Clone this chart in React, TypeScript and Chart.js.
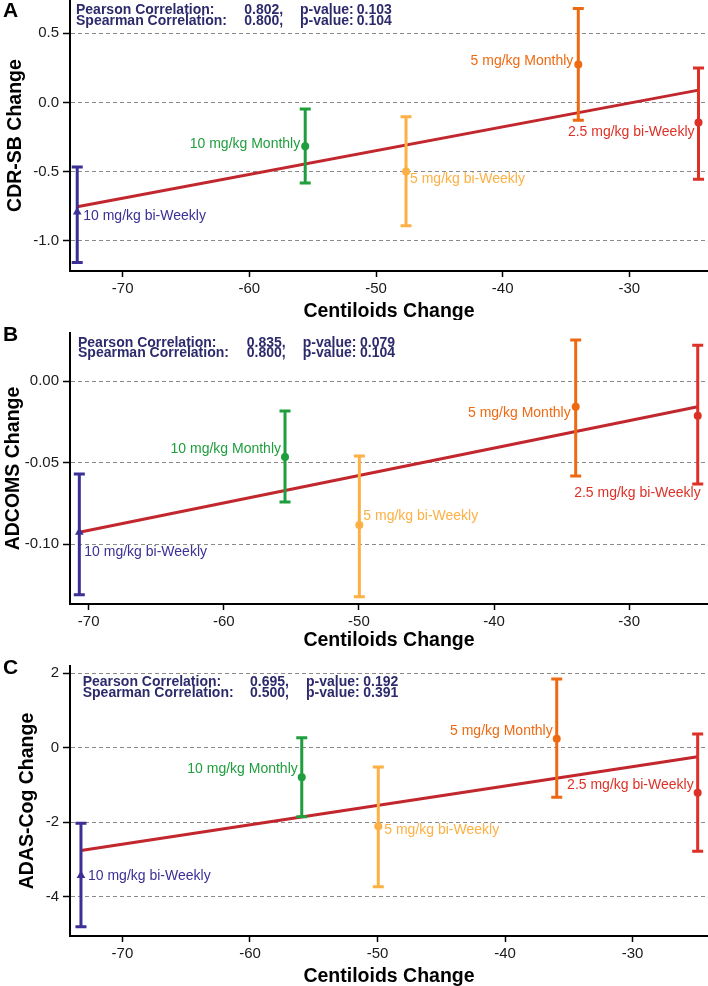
import React, { useEffect, useRef } from 'react';
import { Chart, registerables } from 'chart.js';

Chart.register(...registerables);

// ---------- shared data ----------
const groups = ['10 mg/kg bi-Weekly', '10 mg/kg Monthly', '5 mg/kg bi-Weekly', '5 mg/kg Monthly', '2.5 mg/kg bi-Weekly'];
const xTitle = 'Centiloids Change';
const xTickValues = [-70, -60, -50, -40, -30];
const statLabels = ['Pearson Correlation:', 'Spearman Correlation:'];

// ---------- panel A : CDR-SB ----------
const cdrsbTitle = 'CDR-SB Change';
const cdrsbCentiloids = [-73.59, -55.59, -47.63, -34.03, -24.54];
const cdrsbMean = [-0.793, -0.316, -0.499, 0.275, -0.145];
const cdrsbLow = [-1.157, -0.582, -0.892, -0.128, -0.555];
const cdrsbHigh = [-0.466, -0.048, -0.104, 0.68, 0.25];
const cdrsbFitX = [-73.59, -24.54];
const cdrsbFitY = [-0.754, 0.089];
const cdrsbTicks = [0.5, 0.0, -0.5, -1.0];
const cdrsbPearson = ['0.802,', '0.103'];
const cdrsbSpearman = ['0.800,', '0.104'];

// ---------- panel B : ADCOMS ----------
const adcomsTitle = 'ADCOMS Change';
const adcomsCentiloids = [-70.69, -55.47, -49.97, -33.96, -24.93];
const adcomsMean = [-0.0928, -0.0466, -0.0883, -0.0158, -0.0213];
const adcomsLow = [-0.1311, -0.0742, -0.1323, -0.0583, -0.0632];
const adcomsHigh = [-0.0571, -0.0184, -0.046, 0.0252, 0.0219];
const adcomsFitX = [-70.69, -24.93];
const adcomsFitY = [-0.0928, -0.0158];
const adcomsTicks = [0.0, -0.05, -0.1];
const adcomsPearson = ['0.835,', '0.079'];
const adcomsSpearman = ['0.800,', '0.104'];

// ---------- panel C : ADAS-Cog ----------
const adasTitle = 'ADAS-Cog Change';
const adasCentiloids = [-73.25, -55.94, -49.94, -35.95, -24.9];
const adasMean = [-3.43, -0.79, -2.11, 0.24, -1.21];
const adasLow = [-4.81, -1.85, -3.73, -1.33, -2.78];
const adasHigh = [-2.03, 0.27, -0.52, 1.85, 0.37];
const adasFitX = [-73.25, -24.9];
const adasFitY = [-2.76, -0.24];
const adasTicks = [2, 0, -2, -4];
const adasPearson = ['0.695,', '0.192'];
const adasSpearman = ['0.500,', '0.391'];

// ---------- styles ----------
const groupColors = ['#3a3095', '#1f9e3d', '#fdb043', '#ee6a12', '#dd3127'];
const markerStyles = ['triangle', 'circle', 'circle', 'circle', 'circle'];
const markerSizes = [5, 4, 4, 4, 4];
const fitColor = '#c1272d';
const statColor = '#2d2a6c';
const FONT = '"Liberation Sans", Arial, Helvetica, sans-serif';

type Place = { align: 'left' | 'right'; dx: number; dy: number };

const placesA: Place[] = [
  { align: 'left', dx: 6, dy: 4 },
  { align: 'right', dx: -5, dy: -2 },
  { align: 'left', dx: 4, dy: 8 },
  { align: 'right', dx: -5, dy: -3 },
  { align: 'right', dx: -4, dy: 10 },
];
const placesB: Place[] = [
  { align: 'left', dx: 5, dy: 20 },
  { align: 'right', dx: -4, dy: -8 },
  { align: 'left', dx: 4, dy: -9 },
  { align: 'right', dx: -5, dy: 6 },
  { align: 'right', dx: 3, dy: 77 },
];
const placesC: Place[] = [
  { align: 'left', dx: 7, dy: 1 },
  { align: 'right', dx: -4, dy: -8 },
  { align: 'left', dx: 6, dy: 4 },
  { align: 'right', dx: -4, dy: -8 },
  { align: 'right', dx: -4, dy: -8 },
];

type Panel = {
  letter: string;
  yTitle: string;
  xs: number[];
  mean: number[];
  low: number[];
  high: number[];
  fitX: number[];
  fitY: number[];
  yTicks: number[];
  decimals: number;
  pearson: string[];
  spearman: string[];
  places: Place[];
  top: number;
  height: number;
  areaTop: number;
  xAxisH: number;
  xMin: number;
  xMax: number;
  yMin: number;
  yMax: number;
  yTitleX: number;
  xTitleBase: number;
  letterBase: number;
  annX: number[];
  annY: number[];
};

const panels: Panel[] = [
  {
    letter: 'A', yTitle: cdrsbTitle, xs: cdrsbCentiloids, mean: cdrsbMean, low: cdrsbLow, high: cdrsbHigh,
    fitX: cdrsbFitX, fitY: cdrsbFitY, yTicks: cdrsbTicks, decimals: 1, pearson: cdrsbPearson, spearman: cdrsbSpearman,
    places: placesA,
    top: 0, height: 320, areaTop: 0, xAxisH: 49, xMin: -74.16, xMax: -23.79, yMin: -1.219, yMax: 0.741,
    yTitleX: 21, xTitleBase: 317, letterBase: 17, annX: [76, 244.3, 300, 356.7], annY: [10.3, 21.3],
  },
  {
    letter: 'B', yTitle: adcomsTitle, xs: adcomsCentiloids, mean: adcomsMean, low: adcomsLow, high: adcomsHigh,
    fitX: adcomsFitX, fitY: adcomsFitY, yTicks: adcomsTicks, decimals: 2, pearson: adcomsPearson, spearman: adcomsSpearman,
    places: placesB,
    top: 320, height: 330, areaTop: 13, xAxisH: 46, xMin: -71.38, xMax: -24.17, yMin: -0.1368, yMax: 0.02945,
    yTitleX: 19, xTitleBase: 646, letterBase: 341, annX: [78, 246.7, 302.7, 360], annY: [342.7, 353.3],
  },
  {
    letter: 'C', yTitle: adasTitle, xs: adasCentiloids, mean: adasMean, low: adasLow, high: adasHigh,
    fitX: adasFitX, fitY: adasFitY, yTicks: adasTicks, decimals: 0, pearson: adasPearson, spearman: adasSpearman,
    places: placesC,
    top: 650, height: 336, areaTop: 16, xAxisH: 50, xMin: -74.11, xMax: -24.09, yMin: -5.056, yMax: 2.196,
    yTitleX: 33, xTitleBase: 982, letterBase: 674, annX: [82.7, 250, 306, 363.3], annY: [682.3, 692.7],
  },
];

function buildChart(canvas: HTMLCanvasElement, p: Panel) {
  const decor = {
    id: 'decor' + p.letter,
    beforeDatasetDraw(chart: any, args: any) {
      if (args.index !== 0) return;
      const { ctx } = chart;
      const x = chart.scales.x;
      const y = chart.scales.y;
      ctx.save();
      ctx.lineWidth = 3;
      ctx.lineCap = 'butt';
      p.xs.forEach((xv, i) => {
        const px = x.getPixelForValue(xv);
        const pl = y.getPixelForValue(p.low[i]);
        const ph = y.getPixelForValue(p.high[i]);
        ctx.strokeStyle = groupColors[i];
        ctx.beginPath();
        ctx.moveTo(px, pl);
        ctx.lineTo(px, ph);
        ctx.moveTo(px - 5.5, pl);
        ctx.lineTo(px + 5.5, pl);
        ctx.moveTo(px - 5.5, ph);
        ctx.lineTo(px + 5.5, ph);
        ctx.stroke();
      });
      ctx.restore();
    },
    afterDraw(chart: any) {
      const { ctx, chartArea } = chart;
      const x = chart.scales.x;
      const y = chart.scales.y;
      ctx.save();
      // point labels
      ctx.font = `14px ${FONT}`;
      ctx.textBaseline = 'middle';
      p.xs.forEach((xv, i) => {
        const pl = p.places[i];
        ctx.fillStyle = groupColors[i];
        ctx.textAlign = pl.align;
        ctx.fillText(groups[i], x.getPixelForValue(xv) + pl.dx, y.getPixelForValue(p.mean[i]) + pl.dy);
      });
      // statistics
      ctx.font = `bold 14px ${FONT}`;
      ctx.fillStyle = statColor;
      ctx.textAlign = 'left';
      const rows = [
        [statLabels[0], p.pearson[0], 'p-value:', p.pearson[1]],
        [statLabels[1], p.spearman[0], 'p-value:', p.spearman[1]],
      ];
      rows.forEach((row, r) => {
        row.forEach((t, c) => ctx.fillText(t, p.annX[c], p.annY[r] - p.top));
      });
      // panel letter
      ctx.fillStyle = '#000';
      ctx.textBaseline = 'alphabetic';
      ctx.font = `bold 21px ${FONT}`;
      ctx.fillText(p.letter, 3, p.letterBase - p.top);
      // axis titles
      ctx.font = `bold 19.5px ${FONT}`;
      ctx.textAlign = 'center';
      ctx.fillText(xTitle, (chartArea.left + chartArea.right) / 2, p.xTitleBase - p.top);
      ctx.translate(p.yTitleX, (chartArea.top + chartArea.bottom) / 2);
      ctx.rotate(-Math.PI / 2);
      ctx.fillText(p.yTitle, 0, 0);
      ctx.restore();
    },
  };

  return new Chart(canvas, {
    type: 'scatter',
    data: {
      datasets: [
        {
          type: 'scatter',
          data: p.xs.map((xv, i) => ({ x: xv, y: p.mean[i] })),
          pointStyle: markerStyles as any,
          pointRadius: markerSizes,
          pointHoverRadius: markerSizes,
          pointBackgroundColor: groupColors,
          pointBorderColor: groupColors,
          pointBorderWidth: 0,
          clip: false,
        } as any,
        {
          type: 'line',
          data: p.fitX.map((xv, i) => ({ x: xv, y: p.fitY[i] })),
          borderColor: fitColor,
          borderWidth: 3,
          pointRadius: 0,
          fill: false,
          tension: 0,
          clip: false,
        } as any,
      ],
    },
    options: {
      responsive: false,
      animation: false,
      events: [],
      layout: { autoPadding: false, padding: { top: p.areaTop, right: 0, bottom: 0, left: 0 } },
      plugins: { legend: { display: false }, tooltip: { enabled: false } },
      scales: {
        x: {
          type: 'linear',
          position: 'bottom',
          min: p.xMin,
          max: p.xMax,
          afterBuildTicks: (s: any) => {
            s.ticks = xTickValues.map((v) => ({ value: v }));
          },
          afterFit: (s: any) => {
            s.height = p.xAxisH;
            s.paddingLeft = 0;
            s.paddingRight = 0;
          },
          ticks: {
            font: { family: FONT, size: 15 },
            color: '#1a1a1a',
            padding: 3,
            maxRotation: 0,
            autoSkip: false,
            callback: (v: any) => String(v),
          },
          grid: {
            drawOnChartArea: false,
            drawTicks: true,
            tickLength: 6,
            tickColor: '#000',
            tickWidth: 1.5,
            tickBorderDash: [],
          },
          border: { color: '#000', width: 2 },
        },
        y: {
          type: 'linear',
          min: p.yMin,
          max: p.yMax,
          afterBuildTicks: (s: any) => {
            s.ticks = p.yTicks.map((v) => ({ value: v }));
          },
          afterFit: (s: any) => {
            s.width = 70;
            s.paddingTop = 0;
            s.paddingBottom = 0;
          },
          ticks: {
            font: { family: FONT, size: 15 },
            color: '#1a1a1a',
            padding: 4,
            autoSkip: false,
            callback: (v: any) => Number(v).toFixed(p.decimals),
          },
          grid: {
            color: '#8a8a8a',
            lineWidth: 1,
            drawTicks: true,
            tickLength: 7,
            tickColor: '#000',
            tickWidth: 1.5,
            tickBorderDash: [],
          },
          border: { color: '#000', width: 2, dash: [4, 3] },
        },
      },
    },
    plugins: [decor],
  } as any);
}

function PanelChart({ p }: { p: Panel }) {
  const ref = useRef<HTMLCanvasElement>(null);
  useEffect(() => {
    if (!ref.current) return;
    const chart = buildChart(ref.current, p);
    return () => chart.destroy();
  }, [p]);
  return (
    <canvas
      ref={ref}
      width={708}
      height={p.height}
      style={{ position: 'absolute', left: 0, top: p.top, width: 708, height: p.height }}
    />
  );
}

export default function App() {
  return (
    <div style={{ position: 'absolute', left: 0, top: 0, width: 708, height: 986, background: '#fff' }}>
      {panels.map((p) => (
        <PanelChart key={p.letter} p={p} />
      ))}
    </div>
  );
}
